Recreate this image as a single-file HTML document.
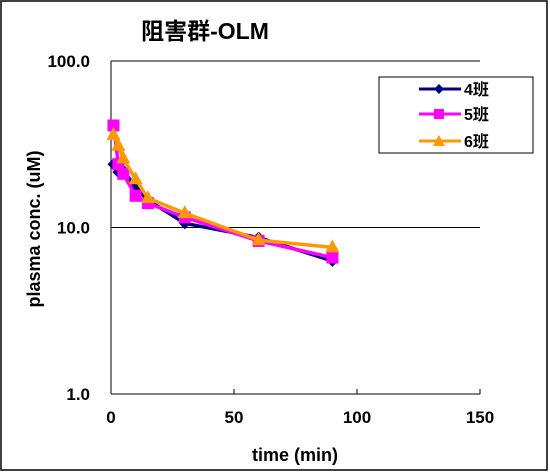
<!DOCTYPE html>
<html><head><meta charset="utf-8"><style>
body{margin:0;background:#fff}
svg{display:block;font-family:"Liberation Sans","Noto Sans CJK JP",sans-serif;font-weight:bold}
</style></head><body>
<svg id="c" width="550" height="472" viewBox="0 0 550 472">
<rect x="1" y="1" width="546" height="469" fill="#fff" stroke="#000" stroke-width="1.5"/>
<text x="205" y="39" font-size="23" text-anchor="middle">阻害群-OLM</text>
<g id="axes"></g>
<g id="series"></g>
<text x="295" y="461" font-size="18" text-anchor="middle">time (min)</text>
<text transform="translate(40,229) rotate(-90)" font-size="18" text-anchor="middle">plasma conc. (uM)</text>
<g>
<rect x="379" y="77" width="154" height="76" fill="#fff" stroke="#000" stroke-width="1"/>
<g><line x1="419" y1="89" x2="461" y2="89" stroke="#000080" stroke-width="3"/><path d="M439 84 L444 89 L439 94 L434 89Z" fill="#000080"/><text x="464" y="95" font-size="16">4班</text></g>
<g><line x1="419" y1="114" x2="461" y2="114" stroke="#ff00ff" stroke-width="3"/><rect x="434" y="109" width="10" height="10" fill="#ff00ff"/><text x="464" y="120" font-size="16">5班</text></g>
<g><line x1="419" y1="141" x2="461" y2="141" stroke="#ff9900" stroke-width="3"/><path d="M439 135 L445 146 L433 146Z" fill="#ff9900"/><text x="464" y="147" font-size="16">6班</text></g>
</g>
</svg>
<script>
const times=[1,3,5,10,15,30,60,90];
const s4=[24,21.5,22,17.5,14.6,10.6,8.7,6.3];
const s5=[41,24,21,15.5,14,11.5,8.3,6.6];
const s6=[36,31,26,19.5,15,12.2,8.4,7.6];
const xTicks=[0,50,100,150];
const yTicks=[1,10,100];
const yLabels=["1.0","10.0","100.0"];
const NS="http://www.w3.org/2000/svg";
const X0=111,X1=480,Y1=394,Y100=61;
function xs(v){return X0+(v-0)/150*(X1-X0);}
function ys(v){return Y1-Math.log10(v)/2*(Y1-Y100);}
function mk(tag,attrs,parent){const e=document.createElementNS(NS,tag);for(const k in attrs)e.setAttribute(k,attrs[k]);parent.appendChild(e);return e;}
const ax=document.getElementById('axes');
yTicks.forEach((t,i)=>{
  if(t>1){const g=mk('line',{x1:X0,x2:X1,y1:ys(t),y2:ys(t),stroke:'#000','stroke-width':1},ax);
  
  }
  const l=mk('text',{x:90,y:ys(t)+6,'font-size':17,'text-anchor':'end'},ax);l.textContent=yLabels[i];
  
  
});
xTicks.forEach(t=>{
  mk('line',{x1:xs(t),x2:xs(t),y1:Y1,y2:Y1-5,stroke:'#000'},ax);
  const l=mk('text',{x:xs(t),y:Y1+29,'font-size':17,'text-anchor':'middle'},ax);l.textContent=t;
  
  
});
const ya=mk('line',{x1:X0,x2:X0,y1:Y100,y2:Y1,stroke:'#000'},ax);


const xa=mk('line',{x1:X0,x2:X1,y1:Y1,y2:Y1,stroke:'#000'},ax);


const sg=document.getElementById('series');
function draw(vals,color,shape,name){
  const g=mk('g',{},sg);
  
  
  mk('polyline',{points:times.map((t,i)=>xs(t)+','+ys(vals[i])).join(' '),fill:'none',stroke:color,'stroke-width':3.5,'stroke-linejoin':'round'},g);
  times.forEach((t,i)=>{const x=xs(t),y=ys(vals[i]);let p;
    if(shape==='d')p=mk('path',{d:`M${x} ${y-6}L${x+6} ${y}L${x} ${y+6}L${x-6} ${y}Z`,fill:color},g);
    else if(shape==='s')p=mk('rect',{x:x-6,y:y-6,width:12,height:12,fill:color},g);
    else p=mk('path',{d:`M${x} ${y-8}L${x+7} ${y+5}L${x-7} ${y+5}Z`,fill:color},g);
    
    
  });
}
draw(s4,'#000080','d','series-4');
draw(s5,'#ff00ff','s','series-5');
draw(s6,'#ff9900','t','series-6');
</script>
</body></html>
